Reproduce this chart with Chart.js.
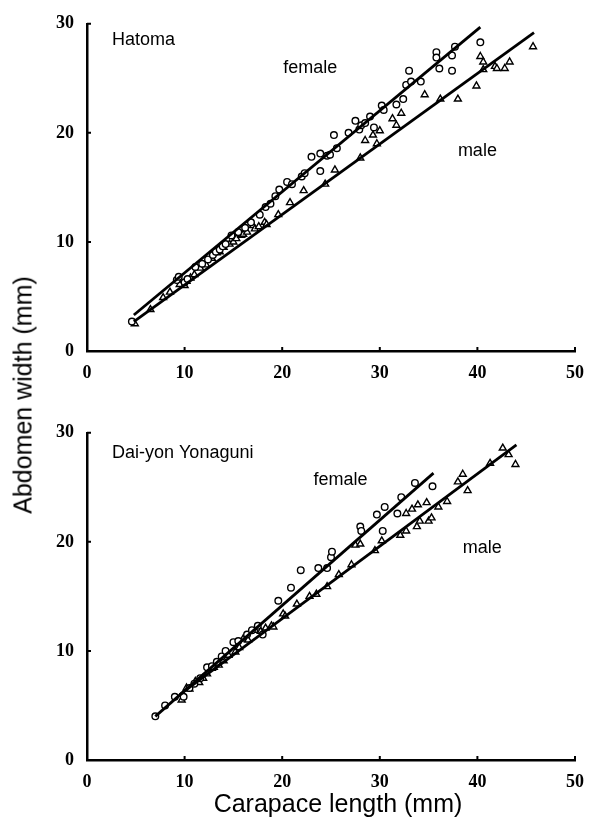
<!DOCTYPE html>
<html>
<head>
<meta charset="utf-8">
<script src="https://cdn.jsdelivr.net/npm/chart.js@4/dist/chart.umd.min.js"></script>
<style>
  body { margin: 0; background: #fff; }
  #wrap { position: relative; width: 597px; height: 820px; overflow: hidden; }
  canvas { position: absolute; left: 0; }
  #c1 { top: 0; }
  #c2 { top: 409px; }
  .title { position: absolute; font-family: "Liberation Sans", Arial, sans-serif; font-size: 25px;
           line-height: 1; white-space: nowrap; color: #000; transform: translate(-50%, -50%); }
  #ytitle { left: 23px; top: 395px; transform: translate(-50%, -50%) rotate(-90deg); }
  #xtitle { left: 338px; top: 803px; }
</style>
</head>
<body>
<div id="wrap">
  <canvas id="c1" width="597" height="400"></canvas>
  <canvas id="c2" width="597" height="400"></canvas>
  <div class="title" id="ytitle">Abdomen width (mm)</div>
  <div class="title" id="xtitle">Carapace length (mm)</div>
</div>
<script>
// axes
const xTicks = [0, 10, 20, 30, 40, 50];
const yTicks = [0, 10, 20, 30];

// Hatoma : [carapace length, abdomen width]
const hatomaFemale = [
  [4.6,2.7],[9.2,6.5],[9.4,6.8],[10.0,6.3],[10.3,6.6],[11.1,7.7],[11.8,8.0],[12.4,8.4],
  [12.9,8.8],[13.2,9.1],[13.6,9.3],[13.9,9.6],[14.2,9.8],[14.8,10.6],[15.5,10.9],[16.2,11.3],
  [16.8,11.8],[17.7,12.5],[18.3,13.2],[18.8,13.5],[19.3,14.2],[19.7,14.8],[20.5,15.5],[21.0,15.3],
  [22.0,16.0],[22.3,16.3],[23.0,17.8],[23.9,18.1],[23.9,16.5],[24.6,17.9],[24.9,18.0],
  [25.6,18.6],[25.3,19.8],[26.8,20.0],[27.5,21.1],[27.9,20.3],[28.1,20.7],[28.5,20.9],
  [29.0,21.5],[29.4,20.5],[30.2,22.5],[30.4,22.1],[31.7,22.6],[32.4,23.1],[32.7,24.4],
  [33.0,25.7],[33.2,24.7],[34.2,24.7],[35.8,27.4],[35.8,26.9],[36.1,25.9],[37.4,27.1],
  [37.4,25.7],[37.7,27.9],[40.3,28.3]
];
const hatomaMale = [
  [4.9,2.5],[6.5,3.8],[7.8,4.9],[8.5,5.4],[9.5,6.1],[10.0,6.0],[10.2,6.4],[10.6,6.7],
  [11.0,7.0],[11.6,7.6],[12.2,7.9],[12.8,8.5],[13.3,9.0],[13.6,9.1],[14.0,9.5],[14.6,9.8],
  [15.0,10.0],[15.3,10.3],[15.8,10.6],[16.0,10.7],[16.4,10.9],[17.0,11.5],[17.2,11.2],
  [17.6,11.4],[18.2,11.8],[18.4,11.6],[19.6,12.5],[20.8,13.6],[22.2,14.7],[24.4,15.3],
  [25.4,16.6],[28.0,17.7],[28.5,19.3],[29.3,19.8],[29.7,19.0],[30.0,20.2],[31.3,21.3],
  [31.7,20.7],[32.2,21.8],[34.6,23.5],[36.2,23.1],[38.0,23.1],[39.9,24.3],[40.3,27.0],
  [40.6,26.5],[40.6,25.8],[41.8,26.1],[42.0,25.9],[42.8,25.9],[43.3,26.5],[45.7,27.9]
];
const hatomaFemaleFit = [[4.8,3.3],[40.3,29.7]];
const hatomaMaleFit = [[4.8,2.7],[45.8,29.2]];

// Dai-yon Yonaguni
const yonaguniFemale = [
  [7.0,4.0],[8.0,5.0],[9.0,5.8],[9.9,5.8],[10.5,6.6],[11.0,7.0],[11.6,7.5],[12.3,8.5],
  [12.8,8.6],[13.3,9.0],[13.8,9.5],[14.2,10.0],[15.0,10.8],[15.5,10.9],[16.4,11.5],
  [16.9,11.9],[17.5,12.3],[18.0,11.5],[19.6,14.6],[20.9,15.8],[21.9,17.4],
  [23.7,17.6],[24.6,17.6],[25.0,18.6],[25.1,19.1],[28.0,21.4],[28.1,21.0],[29.7,22.5],
  [30.3,21.0],[30.5,23.2],[31.8,22.6],[32.2,24.1],[33.6,25.4],[35.4,25.1]
];
const yonaguniMale = [
  [9.7,5.5],[10.2,6.6],[10.5,6.5],[11.1,7.2],[11.5,7.1],[11.9,7.5],[12.3,7.9],[12.8,8.4],
  [13.0,8.5],[13.5,8.7],[14.0,9.1],[14.5,9.6],[15.2,9.9],[15.6,10.3],[16.0,11.1],[16.5,11.0],
  [17.2,11.9],[17.8,11.8],[18.3,12.1],[18.9,12.3],[19.1,12.2],[20.1,13.4],[20.3,13.2],
  [21.5,14.3],[22.8,15.0],[23.5,15.2],[24.6,15.9],[25.8,17.0],[27.1,17.9],[27.5,19.7],
  [28.0,19.8],[29.5,19.2],[30.2,20.1],[32.1,20.6],[32.7,21.0],[32.7,22.6],[33.3,23.0],
  [33.8,21.4],[33.9,23.4],[34.1,21.9],[34.8,23.6],[35.0,21.9],[35.3,22.2],[36.0,23.2],
  [36.9,23.7],[38.0,25.5],[38.5,26.2],[39.0,24.7],[41.3,27.2],[42.6,28.6],[43.2,28.0],
  [43.9,27.1]
];
const yonaguniFemaleFit = [[7.0,4.0],[35.5,26.3]];
const yonaguniMaleFit = [[9.5,6.0],[44.0,28.9]];

// texts in the plot (left edge / baseline in data units)
const hatomaTexts = [['Hatoma', 2.56, 28.1], ['female', 20.1, 25.5], ['male', 38.0, 17.9]];
const yonaguniTexts = [['Dai-yon Yonaguni', 2.56, 27.7], ['female', 23.2, 25.2], ['male', 38.5, 19.0]];

const toXY = arr => arr.map(p => ({ x: p[0], y: p[1] }));

const innerTicks = {
  id: 'innerTicks',
  afterDraw(chart) {
    const ctx = chart.ctx, xs = chart.scales.x, ys = chart.scales.y, a = chart.chartArea;
    ctx.save();
    ctx.strokeStyle = '#000';
    ctx.lineWidth = 2;
    ctx.beginPath();
    xTicks.slice(1).forEach(v => {
      const px = xs.getPixelForValue(v);
      ctx.moveTo(px, a.bottom); ctx.lineTo(px, a.bottom - 4);
    });
    yTicks.slice(1).forEach(v => {
      const py = ys.getPixelForValue(v);
      ctx.moveTo(a.left, py); ctx.lineTo(a.left + 4, py);
    });
    ctx.stroke();
    ctx.restore();
  }
};

function panelText(texts) {
  return {
    id: 'panelText',
    afterDraw(chart) {
      const ctx = chart.ctx, xs = chart.scales.x, ys = chart.scales.y;
      ctx.save();
      ctx.fillStyle = '#000';
      ctx.font = '18px "Liberation Sans", Arial, sans-serif';
      ctx.textAlign = 'left';
      ctx.textBaseline = 'alphabetic';
      texts.forEach(t => ctx.fillText(t[0], xs.getPixelForValue(t[1]), ys.getPixelForValue(t[2])));
      ctx.restore();
    }
  };
}

const tickFont = { family: '"Liberation Serif", "Times New Roman", serif', weight: 'bold', size: 18 };

function makePanel(id, female, male, femaleFit, maleFit, texts) {
  return new Chart(document.getElementById(id), {
    type: 'scatter',
    data: {
      datasets: [
        { data: toXY(femaleFit), showLine: true, borderColor: '#000', borderWidth: 2.8, pointRadius: 0 },
        { data: toXY(maleFit), showLine: true, borderColor: '#000', borderWidth: 2.8, pointRadius: 0 },
        { data: toXY(female), pointStyle: 'circle', pointRadius: 3.3, pointBorderWidth: 1.4,
          pointBorderColor: '#000', pointBackgroundColor: '#fff' },
        { data: toXY(male), pointStyle: 'triangle', pointRadius: 4, pointBorderWidth: 1.4,
          pointBorderColor: '#000', pointBackgroundColor: '#fff' }
      ]
    },
    options: {
      responsive: false,
      animation: false,
      layout: { padding: { top: 18, right: 22, left: 0, bottom: 0 } },
      plugins: { legend: { display: false }, tooltip: { enabled: false } },
      scales: {
        x: {
          type: 'linear', min: 0, max: 50,
          afterBuildTicks: s => { s.ticks = xTicks.map(v => ({ value: v })); },
          afterFit: s => { s.height = 49; },
          grid: { display: false, drawTicks: false },
          border: { display: true, color: '#000', width: 2.5 },
          ticks: { color: '#000', font: tickFont, padding: 12, maxRotation: 0 }
        },
        y: {
          type: 'linear', min: 0, max: 30,
          afterBuildTicks: s => { s.ticks = yTicks.map(v => ({ value: v })); },
          afterFit: s => { s.width = 87; },
          grid: { display: false, drawTicks: false },
          border: { display: true, color: '#000', width: 2.5 },
          ticks: { color: '#000', font: tickFont, padding: 13 }
        }
      }
    },
    plugins: [innerTicks, panelText(texts)]
  });
}

makePanel('c1', hatomaFemale, hatomaMale, hatomaFemaleFit, hatomaMaleFit, hatomaTexts);
makePanel('c2', yonaguniFemale, yonaguniMale, yonaguniFemaleFit, yonaguniMaleFit, yonaguniTexts);
</script>
</body>
</html>
